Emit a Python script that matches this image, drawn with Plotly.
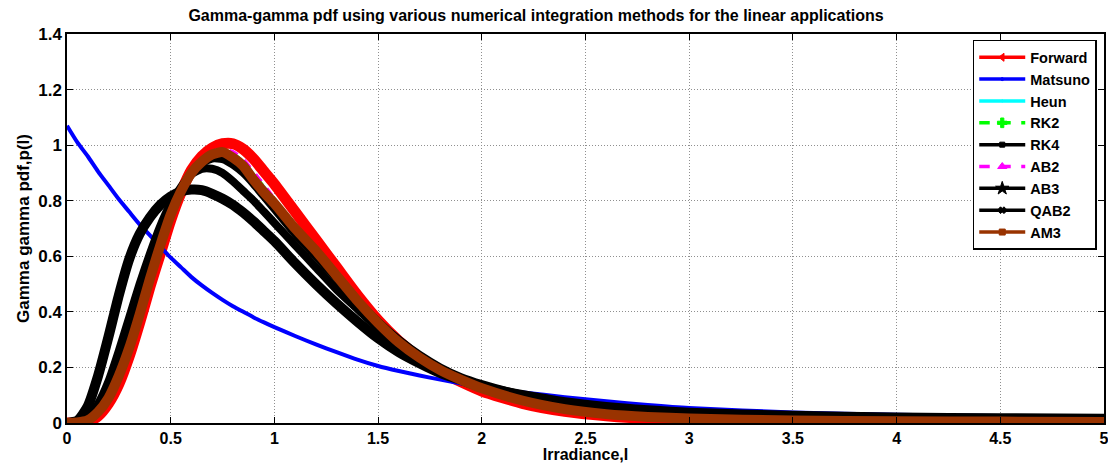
import plotly.graph_objects as go

# ---------------- data ----------------
x_irr = [0.0, 0.05, 0.1, 0.15, 0.2, 0.25, 0.3, 0.35, 0.4, 0.45, 0.5, 0.55, 0.6, 0.65, 0.7,
         0.75, 0.8, 0.85, 0.9, 0.95, 1.0, 1.1, 1.2, 1.3, 1.4, 1.5, 1.6, 1.7, 1.8, 1.9, 2.0,
         2.2, 2.4, 2.6, 2.8, 3.0, 3.5, 4.0, 4.5, 5.0]

forward = [0.0, 0.001, 0.005, 0.025, 0.07, 0.14, 0.24, 0.36, 0.49, 0.61, 0.73, 0.83, 0.91, 0.96, 0.99,
           1.005, 1.005, 0.985, 0.95, 0.905, 0.86, 0.76, 0.66, 0.56, 0.46, 0.37, 0.295, 0.235, 0.185, 0.148, 0.115,
           0.07, 0.042, 0.026, 0.016, 0.01, 0.004, 0.002, 0.001, 0.0005]

matsuno = [1.07, 1.01, 0.96, 0.905, 0.855, 0.805, 0.76, 0.715, 0.675, 0.635, 0.595, 0.56, 0.525, 0.495, 0.468,
           0.443, 0.42, 0.40, 0.38, 0.362, 0.345, 0.313, 0.283, 0.255, 0.228, 0.205, 0.187, 0.171, 0.156, 0.142, 0.13,
           0.11, 0.093, 0.078, 0.065, 0.054, 0.038, 0.03, 0.025, 0.022]

heun = [0.0, 0.002, 0.008, 0.035, 0.085, 0.16, 0.26, 0.38, 0.51, 0.63, 0.745, 0.835, 0.9, 0.945, 0.972,
        0.98, 0.97, 0.94, 0.895, 0.85, 0.8, 0.705, 0.615, 0.525, 0.44, 0.36, 0.29, 0.23, 0.183, 0.145, 0.115,
        0.07, 0.042, 0.025, 0.015, 0.009, 0.003, 0.001, 0.0005, 0.0002]

rk2 = [0.0, 0.002, 0.008, 0.035, 0.085, 0.16, 0.26, 0.38, 0.51, 0.63, 0.745, 0.835, 0.9, 0.945, 0.972,
       0.98, 0.97, 0.94, 0.895, 0.85, 0.8, 0.705, 0.615, 0.525, 0.44, 0.36, 0.29, 0.23, 0.182, 0.144, 0.114,
       0.069, 0.041, 0.024, 0.014, 0.008, 0.003, 0.001, 0.0005, 0.0002]

rk4 = [0.0, 0.005, 0.02, 0.07, 0.15, 0.26, 0.38, 0.5, 0.61, 0.71, 0.79, 0.85, 0.895, 0.915, 0.915,
       0.9, 0.87, 0.835, 0.8, 0.76, 0.72, 0.64, 0.56, 0.48, 0.41, 0.34, 0.28, 0.23, 0.19, 0.16, 0.135,
       0.1, 0.075, 0.058, 0.045, 0.036, 0.025, 0.019, 0.016, 0.014]

ab2 = [0.0, 0.001, 0.006, 0.03, 0.078, 0.15, 0.25, 0.37, 0.5, 0.62, 0.738, 0.832, 0.902, 0.95, 0.978,
       0.985, 0.978, 0.95, 0.905, 0.858, 0.808, 0.71, 0.618, 0.527, 0.44, 0.36, 0.29, 0.23, 0.183, 0.145, 0.115,
       0.07, 0.042, 0.025, 0.015, 0.009, 0.003, 0.001, 0.0005, 0.0002]

ab3 = [0.0, 0.008, 0.06, 0.17, 0.31, 0.46, 0.59, 0.68, 0.74, 0.785, 0.815, 0.833, 0.84, 0.838, 0.825,
       0.807, 0.785, 0.757, 0.725, 0.69, 0.655, 0.575, 0.5, 0.43, 0.365, 0.305, 0.255, 0.215, 0.18, 0.155, 0.13,
       0.1, 0.075, 0.058, 0.046, 0.037, 0.026, 0.02, 0.017, 0.015]

qab2 = [0.0, 0.003, 0.012, 0.05, 0.115, 0.2, 0.31, 0.43, 0.55, 0.66, 0.76, 0.84, 0.9, 0.935, 0.952,
        0.95, 0.93, 0.9, 0.86, 0.815, 0.77, 0.68, 0.6, 0.52, 0.44, 0.365, 0.3, 0.245, 0.2, 0.165, 0.14,
        0.1, 0.072, 0.053, 0.041, 0.033, 0.024, 0.019, 0.016, 0.015]

am3 = [0.0, 0.002, 0.01, 0.04, 0.09, 0.17, 0.27, 0.39, 0.52, 0.64, 0.75, 0.835, 0.9, 0.94, 0.967,
       0.975, 0.955, 0.925, 0.875, 0.83, 0.79, 0.70, 0.62, 0.53, 0.44, 0.36, 0.29, 0.235, 0.19, 0.155, 0.125,
       0.08, 0.05, 0.032, 0.022, 0.016, 0.009, 0.006, 0.005, 0.004]

series_names = ["Forward", "Matsuno", "Heun", "RK2", "RK4", "AB2", "AB3", "QAB2", "AM3"]
series_values = [forward, matsuno, heun, rk2, rk4, ab2, ab3, qab2, am3]

x_ticks = [0, 0.5, 1, 1.5, 2, 2.5, 3, 3.5, 4, 4.5, 5]
y_ticks = [0, 0.2, 0.4, 0.6, 0.8, 1.0, 1.2, 1.4]

# ---------------- styles ----------------
styles = {
    "Forward": dict(color="#ff0000", width=11, dash="solid", symbol="triangle-left", msize=7),
    "Matsuno": dict(color="#0000ff", width=4, dash="solid", symbol="circle", msize=3),
    "Heun":    dict(color="#00ffff", width=3, dash="solid", symbol="circle", msize=1),
    "RK2":     dict(color="#00ff00", width=3, dash="dash", symbol="cross", msize=8),
    "RK4":     dict(color="#000000", width=8, dash="solid", symbol="square", msize=5),
    "AB2":     dict(color="#ff00ff", width=3, dash="dash", symbol="triangle-up", msize=8),
    "AB3":     dict(color="#000000", width=10, dash="solid", symbol="star", msize=10),
    "QAB2":    dict(color="#000000", width=8, dash="solid", symbol="x", msize=6),
    "AM3":     dict(color="#993300", width=10, dash="solid", symbol="square", msize=6),
}

FONT = "Arial, Liberation Sans, sans-serif"

fig = go.Figure()
# curves (thick bands, as the dense markers of the original look)
for name, vals in zip(series_names, series_values):
    s = styles[name]
    fig.add_trace(go.Scatter(
        x=x_irr, y=vals, name=name, mode="lines", showlegend=False, legendgroup=name,
        line=dict(color=s["color"], width=s["width"], dash=s["dash"], shape="spline", smoothing=0.6),
    ))
# legend entries (thin line + marker, as in the reference legend)
for name in series_names:
    s = styles[name]
    fig.add_trace(go.Scatter(
        x=[None], y=[None], name=name, mode="lines+markers", legendgroup=name,
        line=dict(color=s["color"], width=3.5, dash=s["dash"]),
        marker=dict(symbol=s["symbol"], size=s["msize"], color=s["color"],
                    line=dict(width=1, color=s["color"])),
    ))

fig.update_layout(
    width=1108, height=463,
    margin=dict(l=67, r=4, t=34, b=40),
    paper_bgcolor="white", plot_bgcolor="white",
    font=dict(family=FONT, color="black"),
    title=dict(text="Gamma-gamma pdf using various numerical integration methods for the linear applications",
               x=536 / 1108, xanchor="center", y=1 - 15.5 / 463, yanchor="middle",
               font=dict(size=16, weight="bold", family=FONT)),
    legend=dict(x=0.993, y=0.985, xanchor="right", yanchor="top",
                bgcolor="white", bordercolor="black", borderwidth=1.5,
                font=dict(size=14.5, weight="bold", family=FONT),
                tracegroupgap=0, itemwidth=46),
    showlegend=True,
)

fig.update_xaxes(
    range=[0, 5], tickvals=x_ticks, ticktext=[f"{v:g}" for v in x_ticks],
    showline=True, linecolor="black", linewidth=1.5, mirror="ticks",
    ticks="inside", ticklen=6, tickcolor="black",
    showgrid=True, gridcolor="#8f8f8f", griddash="1px,2px", gridwidth=1,
    zeroline=False, automargin=False, ticklabeloverflow="allow",
    tickfont=dict(size=16, weight="bold", family=FONT),
    title=dict(text="Irradiance,I", font=dict(size=16, weight="bold", family=FONT), standoff=4),
)
fig.update_yaxes(
    range=[0, 1.4], tickvals=y_ticks, ticktext=[f"{v:g}" for v in y_ticks],
    showline=True, linecolor="black", linewidth=1.5, mirror="ticks",
    ticks="inside", ticklen=6, tickcolor="black",
    showgrid=True, gridcolor="#8f8f8f", griddash="1px,2px", gridwidth=1,
    zeroline=False, automargin=False,
    tickfont=dict(size=17, weight="bold", family=FONT),
    title=dict(text="Gamma gamma pdf,p(I)", font=dict(size=17, weight="bold", family=FONT), standoff=4),
)

fig.write_html("out.html")
